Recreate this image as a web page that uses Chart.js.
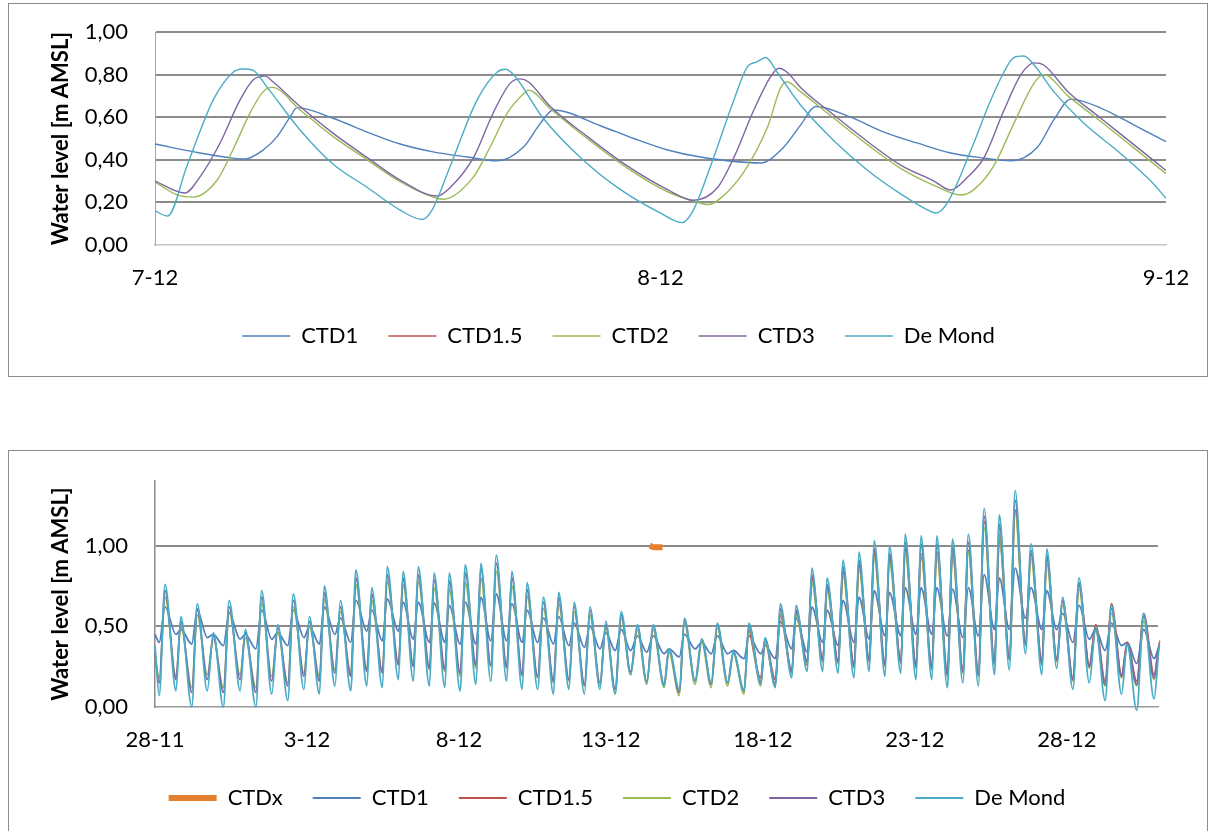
<!DOCTYPE html>
<html>
<head>
   <title>Water level CTD</title>
   <script src="https://cdn.jsdelivr.net/npm/chart.js"></script>
   <style>
       body { margin: 0; background: #fff; overflow: hidden; }
       .box { position: absolute; left: 8px; border: 1px solid #8c8c8c; background: #fff; }
       #box1 { top: 3px; }
       #box2 { top: 450px; }
       canvas { display: block; }
   </style>
</head>
<body>
   <div class="box" id="box1"><canvas id="topChart" width="1198" height="372"></canvas></div>
   <div class="box" id="box2"><canvas id="bottomChart" width="1198" height="380"></canvas></div>

   <script>
       // tick labels
       const topDates = ["7-12", "8-12", "9-12"];
       const bottomDates = ["28-11", "3-12", "8-12", "13-12", "18-12", "23-12", "28-12"];

       // top chart: [days after 7-12, water level]
       const topCtd1 = [[0,0.474],[0.089,0.432],[0.154,0.408],[0.178,0.404],[0.214,0.446],[0.242,0.51],[0.267,0.60],[0.281,0.645],
           [0.352,0.595],[0.420,0.53],[0.485,0.474],[0.550,0.437],[0.618,0.413],[0.677,0.395],[0.729,0.46],[0.762,0.57],[0.788,0.634],
           [0.881,0.56],[0.947,0.50],[1.014,0.446],[1.079,0.413],[1.198,0.385],[1.244,0.46],[1.277,0.563],[1.307,0.65],
           [1.376,0.60],[1.442,0.53],[1.509,0.478],[1.574,0.432],[1.640,0.408],[1.693,0.395],[1.746,0.46],[1.778,0.587],[1.812,0.685],
           [1.871,0.643],[1.937,0.563],[2.0,0.485]];
       const topCtd15 = [];
       const topCtd2 = [[0,0.295],[0.044,0.235],[0.075,0.225],[0.123,0.305],[0.154,0.446],[0.188,0.62],[0.214,0.72],[0.232,0.74],
           [0.287,0.634],[0.352,0.51],[0.420,0.40],[0.485,0.297],[0.550,0.225],[0.570,0.215],[0.630,0.32],[0.663,0.46],[0.697,0.62],
           [0.729,0.71],[0.739,0.727],[0.782,0.64],[0.855,0.50],[0.935,0.36],[1.014,0.25],[1.065,0.207],[1.095,0.19],[1.119,0.22],
           [1.164,0.34],[1.212,0.555],[1.238,0.74],[1.251,0.765],[1.277,0.72],[1.343,0.595],[1.410,0.47],[1.475,0.36],[1.541,0.28],
           [1.594,0.235],[1.620,0.26],[1.659,0.37],[1.699,0.57],[1.739,0.76],[1.758,0.80],[1.806,0.70],[1.871,0.58],[1.937,0.455],[2.0,0.335]];
       const topCtd3 = [[0,0.30],[0.059,0.244],[0.089,0.32],[0.129,0.48],[0.168,0.68],[0.194,0.775],[0.218,0.793],[0.234,0.765],
           [0.287,0.65],[0.352,0.525],[0.420,0.41],[0.485,0.305],[0.558,0.23],[0.584,0.27],[0.630,0.41],[0.669,0.62],[0.703,0.76],
           [0.723,0.78],[0.739,0.765],[0.782,0.65],[0.855,0.51],[0.935,0.37],[1.014,0.26],[1.065,0.21],[1.113,0.27],[1.145,0.41],
           [1.184,0.63],[1.218,0.79],[1.234,0.83],[1.251,0.81],[1.277,0.74],[1.343,0.61],[1.410,0.485],[1.475,0.375],[1.541,0.30],
           [1.574,0.258],[1.608,0.32],[1.640,0.41],[1.679,0.63],[1.713,0.80],[1.739,0.855],[1.758,0.845],[1.806,0.72],[1.871,0.595],
           [1.937,0.47],[2.0,0.35]];
       const topDeMond = [[0,0.16],[0.025,0.136],[0.063,0.37],[0.115,0.68],[0.154,0.81],[0.174,0.826],[0.194,0.82],[0.222,0.74],
           [0.287,0.54],[0.352,0.38],[0.420,0.27],[0.485,0.164],[0.528,0.12],[0.548,0.164],[0.584,0.37],[0.637,0.68],[0.676,0.81],
           [0.693,0.825],[0.709,0.80],[0.768,0.595],[0.842,0.41],[0.921,0.26],[1.000,0.15],[1.043,0.105],[1.065,0.164],[1.099,0.37],
           [1.145,0.68],[1.172,0.837],[1.191,0.86],[1.208,0.88],[1.231,0.81],[1.277,0.657],[1.343,0.49],[1.410,0.35],[1.475,0.24],
           [1.529,0.164],[1.545,0.15],[1.568,0.20],[1.620,0.48],[1.648,0.65],[1.679,0.81],[1.699,0.88],[1.719,0.887],[1.739,0.845],
           [1.778,0.72],[1.838,0.57],[1.905,0.44],[1.970,0.30],[2.0,0.22]];

       // bottom chart: days after 28-11; start, then low/high water per tide, then end
       const bottomTimes = [0,
           0.14,0.33, 0.69,0.85, 1.21,1.39, 1.72,1.92, 2.25,2.44, 2.80,2.97, 3.32,3.51, 3.84,4.04,
           4.37,4.55, 4.90,5.08, 5.41,5.57, 5.92,6.10, 6.44,6.61, 6.97,7.13, 7.48,7.64, 8.01,8.16,
           8.50,8.66, 9.03,9.18, 9.54,9.68, 10.04,10.21, 10.56,10.72, 11.05,11.23, 11.57,11.74, 12.08,12.24,
           12.59,12.78, 13.11,13.28, 13.62,13.79, 14.13,14.31, 14.64,14.83, 15.14,15.34, 15.65,15.87, 16.18,16.39,
           16.75,16.91, 17.25,17.42, 17.77,17.99, 18.30,18.50, 18.84,19.03, 19.38,19.54, 19.93,20.07, 20.41,20.57,
           20.95,21.09, 21.46,21.61, 21.97,22.11, 22.48,22.63, 23.00,23.16, 23.50,23.66, 24.02,24.16, 24.54,24.68,
           25.04,25.20, 25.56,25.72, 26.07,26.24, 26.58,26.76, 27.09,27.28, 27.62,27.78, 28.11,28.30, 28.64,28.82,
           29.18,29.34, 29.67,29.86, 30.20,30.40, 30.74,30.95, 31.26,31.47, 31.80,31.99, 32.30,32.53, 32.87,33.07,
           33.12];
       const bottomCtd1 = [0.45,
           0.40,0.62, 0.45,0.48, 0.39,0.60, 0.43,0.45, 0.38,0.58, 0.42,0.45, 0.36,0.60, 0.42,0.46,
           0.38,0.60, 0.43,0.50, 0.39,0.62, 0.45,0.55, 0.40,0.66, 0.47,0.60, 0.41,0.67, 0.47,0.65,
           0.42,0.65, 0.40,0.645, 0.40,0.63, 0.39,0.65, 0.39,0.68, 0.41,0.70, 0.41,0.64, 0.40,0.60,
           0.40,0.55, 0.39,0.56, 0.38,0.52, 0.37,0.50, 0.36,0.46, 0.35,0.48, 0.35,0.44, 0.34,0.44,
           0.33,0.36, 0.31,0.45, 0.36,0.40, 0.33,0.44, 0.33,0.35, 0.30,0.44, 0.33,0.38, 0.30,0.53,
           0.36,0.55, 0.34,0.62, 0.40,0.60, 0.38,0.66, 0.40,0.68, 0.42,0.72, 0.44,0.71, 0.44,0.74,
           0.45,0.74, 0.45,0.74, 0.44,0.73, 0.43,0.74, 0.44,0.82, 0.48,0.80, 0.48,0.86, 0.55,0.74,
           0.48,0.72, 0.48,0.58, 0.40,0.63, 0.42,0.48, 0.35,0.52, 0.38,0.40, 0.27,0.48, 0.30,0.38,
           0.36];
       // CTD1.5 starts at the high water of 19-12 (index 76 of bottomTimes)
       const bottomCtd15First = 76;
       const bottomCtd15 = [0.50,
           0.18,0.42, 0.17,0.57,
           0.22,0.59, 0.26,0.80, 0.28,0.74, 0.27,0.84, 0.26,0.88, 0.28,0.95, 0.26,0.93, 0.28,0.98,
           0.26,0.94, 0.25,0.96, 0.22,0.95, 0.24,0.97, 0.22,1.15, 0.28,1.04, 0.31,1.22, 0.40,0.95,
           0.28,0.93, 0.30,0.66, 0.18,0.76, 0.26,0.51, 0.16,0.64, 0.20,0.40, 0.16,0.58, 0.20,0.41,
           0.38];
       const bottomCtd2 = [0.30,
           0.18,0.68, 0.19,0.50, 0.12,0.57, 0.20,0.42, 0.12,0.59, 0.20,0.43, 0.12,0.64, 0.19,0.46,
           0.15,0.62, 0.21,0.50, 0.19,0.67, 0.23,0.59, 0.21,0.76, 0.23,0.66, 0.22,0.78, 0.27,0.76,
           0.26,0.78, 0.23,0.74, 0.22,0.73, 0.19,0.77, 0.24,0.80, 0.25,0.84, 0.24,0.75, 0.19,0.69,
           0.18,0.61, 0.15,0.64, 0.16,0.59, 0.13,0.57, 0.13,0.49, 0.09,0.55, 0.20,0.48, 0.14,0.48,
           0.12,0.34, 0.07,0.52, 0.14,0.40, 0.12,0.49, 0.13,0.33, 0.08,0.49, 0.13,0.40, 0.13,0.58,
           0.21,0.57, 0.27,0.77, 0.28,0.72, 0.27,0.82, 0.24,0.86, 0.28,0.93, 0.25,0.90, 0.27,0.96,
           0.24,0.95, 0.23,0.95, 0.19,0.94, 0.21,0.96, 0.19,1.11, 0.26,1.07, 0.29,1.20, 0.38,0.92,
           0.26,0.89, 0.28,0.63, 0.16,0.73, 0.24,0.47, 0.13,0.58, 0.18,0.38, 0.13,0.53, 0.17,0.38,
           0.35];
       const bottomCtd3 = [0.33,
           0.15,0.72, 0.17,0.53, 0.09,0.61, 0.17,0.44, 0.09,0.62, 0.17,0.46, 0.09,0.68, 0.16,0.49,
           0.13,0.66, 0.19,0.53, 0.16,0.71, 0.21,0.62, 0.19,0.80, 0.22,0.70, 0.21,0.82, 0.26,0.80,
           0.25,0.82, 0.24,0.79, 0.23,0.78, 0.21,0.83, 0.26,0.86, 0.26,0.89, 0.25,0.80, 0.20,0.73,
           0.19,0.65, 0.16,0.68, 0.17,0.62, 0.14,0.60, 0.15,0.51, 0.11,0.57, 0.22,0.50, 0.16,0.50,
           0.14,0.36, 0.09,0.54, 0.16,0.42, 0.14,0.51, 0.15,0.34, 0.10,0.51, 0.15,0.42, 0.14,0.61,
           0.22,0.60, 0.28,0.82, 0.29,0.76, 0.28,0.87, 0.25,0.91, 0.29,0.98, 0.26,0.95, 0.28,1.02,
           0.25,1.01, 0.24,1.01, 0.20,0.99, 0.22,1.02, 0.20,1.18, 0.27,1.13, 0.30,1.28, 0.39,0.97,
           0.27,0.94, 0.29,0.66, 0.17,0.77, 0.25,0.49, 0.14,0.61, 0.19,0.39, 0.14,0.56, 0.18,0.40,
           0.37];
       const bottomDeMond = [0.38,
           0.07,0.76, 0.10,0.56, 0.00,0.64, 0.10,0.46, 0.00,0.66, 0.10,0.48, 0.00,0.72, 0.08,0.51,
           0.04,0.70, 0.11,0.56, 0.08,0.75, 0.13,0.66, 0.10,0.85, 0.13,0.74, 0.12,0.87, 0.17,0.84,
           0.16,0.87, 0.13,0.83, 0.12,0.83, 0.10,0.88, 0.14,0.89, 0.16,0.94, 0.16,0.84, 0.11,0.77,
           0.11,0.68, 0.08,0.71, 0.11,0.65, 0.08,0.62, 0.11,0.53, 0.08,0.59, 0.20,0.51, 0.15,0.51,
           0.13,0.36, 0.11,0.55, 0.16,0.42, 0.15,0.52, 0.15,0.34, 0.10,0.52, 0.14,0.43, 0.12,0.64,
           0.18,0.63, 0.22,0.86, 0.22,0.80, 0.21,0.91, 0.18,0.96, 0.22,1.03, 0.19,1.00, 0.21,1.07,
           0.17,1.06, 0.17,1.06, 0.12,1.04, 0.15,1.07, 0.13,1.23, 0.20,1.19, 0.23,1.34, 0.33,1.01,
           0.20,0.98, 0.24,0.68, 0.11,0.80, 0.15,0.50, 0.04,0.63, 0.08,0.39, -0.02,0.58, 0.05,0.40,
           0.38];
       const bottomCtdxTimes = [16.28, 16.40, 16.55, 16.70];
       const bottomCtdx = [1.00, 0.99, 0.99, 0.99];

       const colors = {
           ctdx: "#E5802F", ctd1: "#4F81BD", ctd15: "#C0504D",
           ctd2: "#9BBB59", ctd3: "#8064A2", demond: "#4BACC6"
       };

       Chart.defaults.font.family = "Lato, 'Open Sans', sans-serif";
       Chart.defaults.font.size = 22;
       Chart.defaults.color = "#000";

       function pairs(list) {
           return list.map(p => ({ x: p[0], y: p[1] }));
       }

       function zip(times, values, first) {
           return values.map((v, i) => ({ x: times[first + i], y: v }));
       }

       function comma(v) {
           return Number(v).toFixed(2).replace(".", ",");
       }

       function line(label, color, data, order, width) {
           return {
               label: label, data: data, order: order,
               borderColor: color, backgroundColor: color,
               borderWidth: width, pointRadius: 0, pointHoverRadius: 0,
               fill: false, cubicInterpolationMode: "monotone", clip: false
           };
       }

       function legendOptions() {
           return {
               position: "bottom",
               labels: {
                   usePointStyle: true, pointStyle: "line", pointStyleWidth: 48,
                   padding: 30, color: "#000", font: { size: 22 },
                   sort: (a, b) => a.datasetIndex - b.datasetIndex
               }
           };
       }

       // title sits left of the scale box, so its padding is negative
       function yTitle(pad) {
           return { display: true, text: "Water level [m AMSL]", color: "#000", font: { size: 22, weight: "bold" }, padding: { top: pad, bottom: 0 } };
       }

       function fixWidth(w) {
           return s => { s.width = w; s.paddingTop = 0; s.paddingBottom = 0; };
       }

       function fixHeight(h) {
           return s => { s.height = h; s.paddingLeft = 0; s.paddingRight = 0; };
       }

       new Chart(document.getElementById("topChart"), {
           type: "line",
           data: {
               datasets: [
                   line("CTD1", colors.ctd1, pairs(topCtd1), 4, 1.4),
                   line("CTD1.5", colors.ctd15, pairs(topCtd15), 3, 1.4),
                   line("CTD2", colors.ctd2, pairs(topCtd2), 2, 1.4),
                   line("CTD3", colors.ctd3, pairs(topCtd3), 1, 1.4),
                   line("De Mond", colors.demond, pairs(topDeMond), 0, 1.4)
               ]
           },
           options: {
               responsive: false, animation: false, events: [],
               layout: { padding: { left: 62, right: 41, top: 28, bottom: 19 } },
               plugins: { legend: legendOptions(), tooltip: { enabled: false } },
               scales: {
                   x: {
                       type: "linear", min: 0, max: 2,
                       ticks: { stepSize: 1, padding: 20, maxRotation: 0, autoSkip: false, callback: v => topDates[v] },
                       grid: { display: false, drawTicks: false },
                       border: { display: true, color: "#c4c4c4", width: 1.5 },
                       afterFit: fixHeight(50)
                   },
                   y: {
                       min: 0, max: 1,
                       ticks: { stepSize: 0.2, padding: 27, callback: comma },
                       grid: {
                           drawTicks: false, lineWidth: 2,
                           color: c => (c.tick && c.tick.value === 0) ? "rgba(0,0,0,0)" : "#8c8c8c"
                       },
                       border: { display: true, color: "#a6a6a6", width: 1 },
                       title: yTitle(-23),
                       afterFit: fixWidth(84)
                   }
               }
           }
       });

       new Chart(document.getElementById("bottomChart"), {
           type: "line",
           data: {
               datasets: [
                   line("CTDx", colors.ctdx, zip(bottomCtdxTimes, bottomCtdx, 0), 5, 6),
                   line("CTD1", colors.ctd1, zip(bottomTimes, bottomCtd1, 0), 4, 1.8),
                   line("CTD1.5", colors.ctd15, zip(bottomTimes, bottomCtd15, bottomCtd15First), 3, 1.8),
                   line("CTD2", colors.ctd2, zip(bottomTimes, bottomCtd2, 0), 2, 1.8),
                   line("CTD3", colors.ctd3, zip(bottomTimes, bottomCtd3, 0), 1, 1.8),
                   line("De Mond", colors.demond, zip(bottomTimes, bottomDeMond, 0), 0, 1.8)
               ]
           },
           options: {
               responsive: false, animation: false, events: [],
               layout: { padding: { left: 67, right: 49, top: 30, bottom: 12 } },
               plugins: { legend: legendOptions(), tooltip: { enabled: false } },
               scales: {
                   x: {
                       type: "linear", min: 0, max: 33,
                       ticks: { stepSize: 5, padding: 20, maxRotation: 0, autoSkip: false, callback: v => bottomDates[v / 5] },
                       afterBuildTicks: s => { s.ticks = s.ticks.filter(t => t.value % 5 === 0); },
                       grid: { display: false, drawTicks: false },
                       border: { display: true, color: "#9a9a9a", width: 1.5 },
                       afterFit: fixHeight(50)
                   },
                   y: {
                       min: 0, max: 1.4,
                       ticks: { stepSize: 0.5, padding: 27, callback: comma },
                       afterBuildTicks: s => { s.ticks = s.ticks.filter(t => t.value < 1.2); },
                       grid: {
                           drawTicks: false, lineWidth: 2,
                           color: c => (c.tick && c.tick.value === 0) ? "rgba(0,0,0,0)" : "#8c8c8c"
                       },
                       border: { display: true, color: "#8c8c8c", width: 1.5 },
                       title: yTitle(-28),
                       afterFit: fixWidth(79)
                   }
               }
           }
       });
   </script>
</body>
</html>
